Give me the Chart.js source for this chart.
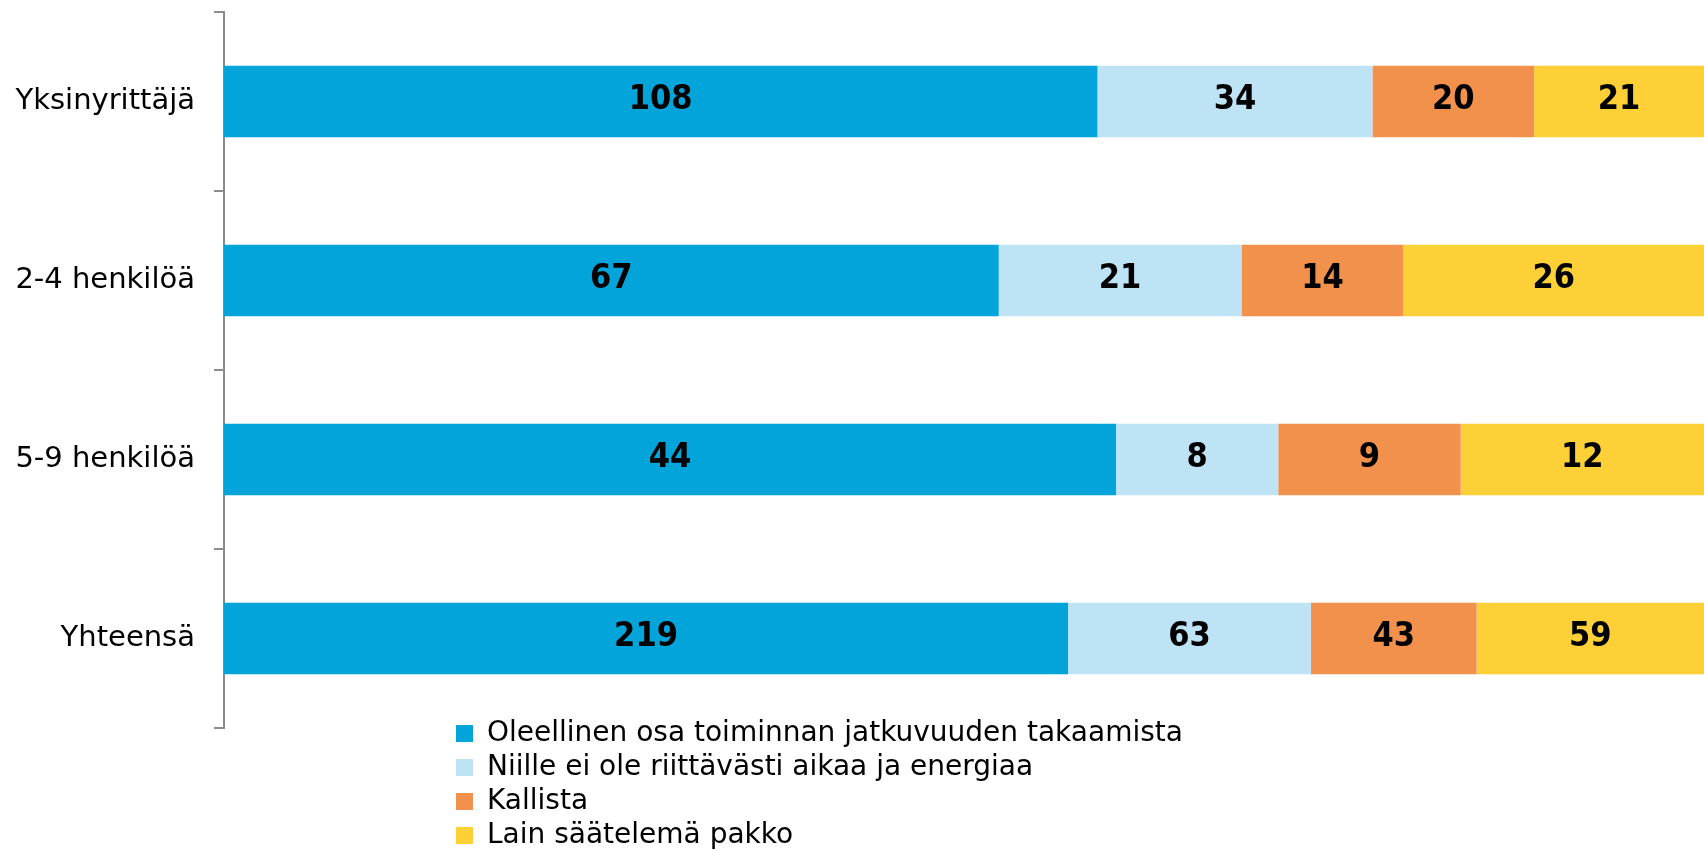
<!DOCTYPE html>
<html><head><meta charset="utf-8">
<script src="https://cdn.jsdelivr.net/npm/chart.js@4.4.1/dist/chart.umd.min.js"></script>
<style>html,body{margin:0;padding:0;background:#fff;overflow:hidden}</style>
</head><body>
<canvas id="c" width="1704" height="851"></canvas>
<script>
const categories = ['Yksinyrittäjä', '2-4 henkilöä', '5-9 henkilöä', 'Yhteensä'];
const seriesNames = [
  'Oleellinen osa toiminnan jatkuvuuden takaamista',
  'Niille ei ole riittävästi aikaa ja energiaa',
  'Kallista',
  'Lain säätelemä pakko'
];
const oleellinen = [108, 67, 44, 219];
const eiAikaa = [34, 21, 8, 63];
const kallista = [20, 14, 9, 43];
const lakiPakko = [21, 26, 12, 59];
const colors = ['#02A4D9', '#BEE3F5', '#F1914B', '#FDD038'];

const counts = [oleellinen, eiAikaa, kallista, lakiPakko];
const totals = categories.map((_, i) => counts.reduce((s, a) => s + a[i], 0));
const datasets = counts.map((arr, k) => ({
  label: seriesNames[k],
  data: arr.map((v, i) => v / totals[i] * 100),
  counts: arr,
  backgroundColor: colors[k],
  borderWidth: 0,
  barPercentage: 0.4,
  categoryPercentage: 1
}));

const valueLabels = {
  id: 'valueLabels',
  afterDatasetsDraw(chart) {
    const ctx = chart.ctx;
    ctx.save();
    ctx.font = 'bold 34px "DejaVu Sans Condensed", "DejaVu Sans", sans-serif';
    ctx.fillStyle = '#000';
    ctx.textAlign = 'center';
    ctx.textBaseline = 'middle';
    chart.data.datasets.forEach((ds, k) => {
      chart.getDatasetMeta(k).data.forEach((el, i) => {
        const p = el.getCenterPoint();
        ctx.fillText(String(ds.counts[i]), p.x, p.y - 1);
      });
    });
    ctx.restore();
  }
};

const legendPlace = {
  id: 'legendPlace',
  afterLayout(chart) {
    const lg = chart.legend;
    if (!lg) return;
    lg.left = 450; lg.right = 1500;
    lg.top = 713.5; lg.bottom = 1000;
    lg.width = lg.right - lg.left; lg.height = lg.bottom - lg.top;
  }
};

new Chart(document.getElementById('c'), {
  type: 'bar',
  data: { labels: categories, datasets },
  options: {
    indexAxis: 'y',
    responsive: false,
    animation: false,
    events: [],
    layout: { padding: { top: 12, bottom: 123, left: 0, right: 0 } },
    scales: {
      x: { stacked: true, display: false, min: 0, max: 100 },
      y: {
        stacked: true,
        grid: { drawOnChartArea: false, drawTicks: true, tickLength: 10, color: '#8c8c8c', lineWidth: 2, offset: true },
        border: { display: true, color: '#8c8c8c', width: 2 },
        ticks: { color: '#000', font: { family: 'DejaVu Sans', size: 29 }, padding: 19 },
        afterFit(s) { s.width = 224; s.paddingTop = 0; s.paddingBottom = 0; }
      }
    },
    plugins: {
      tooltip: { enabled: false },
      legend: {
        position: 'chartArea',
        align: 'start',
        labels: {
          boxWidth: 17,
          boxHeight: 17,
          padding: 6,
          color: '#000',
          font: { family: 'DejaVu Sans', size: 28 }
        }
      }
    }
  },
  plugins: [valueLabels, legendPlace]
});
</script>
</body></html>
